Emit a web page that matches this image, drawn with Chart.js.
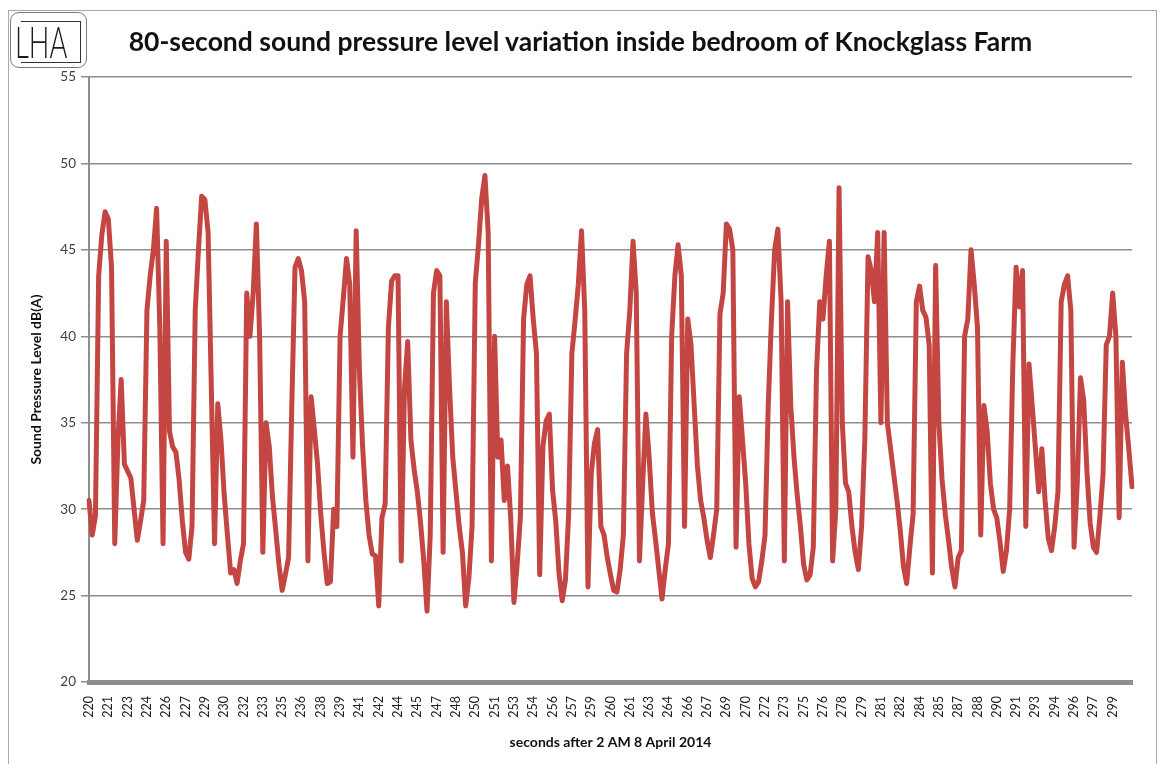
<!DOCTYPE html>
<html>
<head>
<meta charset="utf-8">
<script src="https://cdn.jsdelivr.net/npm/chart.js@4.4.1/dist/chart.umd.min.js"></script>
<style>
    body { margin: 0; background: #fff; }
    #wrap { position: relative; width: 1161px; height: 764px; overflow: hidden; }
    .frame { position: absolute; left: 8px; top: 10px; width: 1147px; height: 800px; border: 1.5px solid #a8a8a8; }
    .logo { position: absolute; left: 10px; top: 12px; width: 75px; height: 54px; border: 1.5px solid #7a7a7a; border-radius: 9px; background: #fff; z-index: 2; overflow: hidden; }
    .logo .bracket { position: absolute; left: 10px; top: 8px; width: 59px; height: 40px; border-top: 1.2px solid #333; border-right: 1.2px solid #333; border-bottom: 1.2px solid #333; }
    .logo span { position: absolute; left: 4px; top: 5px; font-family: Lato, sans-serif; font-weight: 300; font-size: 44px; line-height: 46px; color: #1a1a1a; transform: scaleX(0.62); transform-origin: left top; }
    .title { position: absolute; left: 0; top: 26px; width: 1161px; text-align: center; font-family: Lato, sans-serif; font-weight: bold; font-size: 26.5px; line-height: 30px; color: #111; z-index: 2; }
    #chart { position: absolute; left: 0; top: 0; }
</style>
</head>
<body>
<div id="wrap">
    <div class="frame"></div>
    <div class="logo"><div class="bracket"></div><span>LHA</span></div>
    <div class="title">80-second sound pressure level variation inside bedroom of Knockglass Farm</div>
    <canvas id="chart" width="1161" height="764"></canvas>
</div>
<script>
// tick labels shown on the x axis (every 6th sample)
const tickLabels = [
    '220', '221', '223', '224', '226', '227', '229', '230', '232', '233',
    '235', '236', '238', '239', '241', '242', '244', '245', '247', '248',
    '250', '251', '253', '254', '256', '257', '259', '260', '261', '263',
    '264', '266', '267', '269', '270', '272', '273', '275', '276', '278',
    '279', '281', '282', '284', '285', '287', '288', '290', '291', '293',
    '294', '296', '297', '299'
];
const samplesPerTick = 6;

// sound pressure level dB(A), one row per tick interval
const splValues = [
    30.5, 28.5, 29.6, 43.5, 45.9, 47.2,   // 220
    46.8, 44.0, 28.0, 34.0, 37.5, 32.6,   // 221
    32.2, 31.8, 30.0, 28.2, 29.3, 30.5,   // 223
    41.5, 43.5, 45.0, 47.4, 40.5, 28.0,   // 224
    45.5, 34.5, 33.6, 33.3, 31.7, 29.3,   // 226
    27.5, 27.1, 29.0, 41.5, 45.0, 48.1,   // 227
    47.9, 46.0, 37.0, 28.0, 36.1, 34.0,   // 229
    30.8, 28.5, 26.3, 26.5, 25.7, 27.0,   // 230
    28.0, 42.5, 40.0, 42.5, 46.5, 40.0,   // 232
    27.5, 35.0, 33.6, 30.7, 28.8, 26.8,   // 233
    25.3, 26.2, 27.2, 36.0, 44.0, 44.5,   // 235
    43.8, 42.0, 27.0, 36.5, 34.6, 32.6,   // 236
    29.7, 27.5, 25.7, 25.8, 30.0, 29.0,   // 238
    40.0, 42.2, 44.5, 43.0, 33.0, 46.1,   // 239
    38.0, 33.6, 30.5, 28.5, 27.4, 27.3,   // 241
    24.4, 29.5, 30.3, 40.5, 43.2, 43.5,   // 242
    43.5, 27.0, 37.0, 39.7, 34.0, 32.3,   // 244
    31.0, 29.2, 27.0, 24.1, 28.5, 42.5,   // 245
    43.8, 43.5, 27.5, 42.0, 37.0, 33.0,   // 247
    31.0, 29.0, 27.5, 24.4, 26.0, 29.0,   // 248
    43.1, 45.3, 48.0, 49.3, 46.0, 27.0,   // 250
    40.0, 33.0, 34.0, 30.5, 32.5, 29.5,   // 251
    24.6, 26.8, 29.5, 41.0, 43.0, 43.5,   // 253
    41.0, 39.0, 26.2, 33.6, 35.1, 35.5,   // 254
    31.1, 29.3, 26.3, 24.7, 25.9, 29.7,   // 256
    39.0, 40.9, 43.0, 46.1, 41.5, 25.5,   // 257
    32.0, 33.8, 34.6, 29.0, 28.5, 27.2,   // 259
    26.2, 25.3, 25.2, 26.5, 28.5, 39.0,   // 260
    41.5, 45.5, 42.5, 27.0, 31.5, 35.5,   // 261
    33.0, 29.8, 28.2, 26.5, 24.8, 26.5,   // 263
    28.0, 40.0, 43.5, 45.3, 43.5, 29.0,   // 264
    41.0, 39.5, 36.0, 32.5, 30.5, 29.5,   // 266
    28.2, 27.2, 28.5, 30.0, 41.3, 42.5,   // 267
    46.5, 46.2, 45.0, 27.8, 36.5, 34.0,   // 269
    31.5, 28.0, 26.0, 25.5, 25.8, 27.0,   // 270
    28.5, 36.0, 41.0, 45.0, 46.2, 42.0,   // 272
    27.0, 42.0, 36.0, 33.0, 30.8, 29.0,   // 273
    26.8, 25.9, 26.2, 27.8, 38.0, 42.0,   // 275
    41.0, 43.5, 45.5, 27.0, 30.0, 48.6,   // 276
    35.0, 31.5, 31.0, 29.0, 27.5, 26.5,   // 278
    29.0, 34.0, 44.6, 43.8, 42.0, 46.0,   // 279
    35.0, 46.0, 35.0, 33.5, 32.0, 30.5,   // 281
    28.8, 26.7, 25.7, 27.8, 29.7, 42.0,   // 282
    42.9, 41.5, 41.1, 39.5, 26.3, 44.1,   // 284
    35.0, 31.7, 29.7, 28.2, 26.6, 25.5,   // 285
    27.2, 27.6, 40.0, 41.0, 45.0, 43.0,   // 287
    40.5, 28.5, 36.0, 34.5, 31.5, 30.0,   // 288
    29.5, 28.1, 26.4, 27.6, 30.0, 38.5,   // 290
    44.0, 41.7, 43.8, 29.0, 38.4, 36.0,   // 291
    33.5, 31.0, 33.5, 30.5, 28.3, 27.6,   // 293
    29.0, 31.0, 42.0, 43.0, 43.5, 41.5,   // 294
    27.8, 31.5, 37.6, 36.3, 32.2, 29.2,   // 296
    27.8, 27.5, 29.5, 32.0, 39.5, 40.0,   // 297
    42.5, 40.0, 29.5, 38.5, 35.5, 33.5,   // 299
    31.3
];

const yMin = 20;
const yMax = 55;
const yStep = 5;

// one category per sample, only every 6th carries a visible label
const categories = splValues.map((v, i) =>
    i % samplesPerTick === 0 ? (tickLabels[i / samplesPerTick] || '') : ''
);

const tickFont = { family: 'Lato, sans-serif', size: 12.5 };
const titleFont = { family: 'Lato, sans-serif', size: 14, weight: 'bold' };
const axisGrey = '#8e8e8e';

const ctx = document.getElementById('chart').getContext('2d');

new Chart(ctx, {
    type: 'line',
    data: {
        labels: categories,
        datasets: [{
            label: 'Sound Pressure Level dB(A)',
            data: splValues,
            borderColor: 'rgb(195, 70, 66)',
            borderWidth: 5,
            borderJoinStyle: 'round',
            borderCapStyle: 'round',
            pointRadius: 0,
            tension: 0,
            fill: false
        }]
    },
    options: {
        responsive: false,
        animation: false,
        devicePixelRatio: 1,
        layout: {
            padding: { left: 24, right: 20, top: 77, bottom: 10 }
        },
        plugins: {
            legend: { display: false },
            tooltip: { enabled: false }
        },
        scales: {
            x: {
                type: 'category',
                grid: { display: false, drawTicks: false },
                border: { display: true, color: axisGrey, width: 5 },
                ticks: {
                    autoSkip: false,
                    minRotation: 90,
                    maxRotation: 90,
                    padding: 14,
                    color: '#222',
                    font: tickFont
                },
                title: {
                    display: true,
                    text: 'seconds after 2 AM 8 April 2014',
                    color: '#111',
                    font: titleFont,
                    padding: { top: 4, bottom: 3 }
                },
                afterFit: (scale) => { scale.height = 72; }
            },
            y: {
                min: yMin,
                max: yMax,
                ticks: {
                    stepSize: yStep,
                    padding: 5,
                    color: '#404040',
                    font: { family: 'Lato, sans-serif', size: 13.5 }
                },
                grid: { color: axisGrey, lineWidth: 1.5, tickLength: 8 },
                border: { display: true, color: axisGrey, width: 2 },
                title: {
                    display: true,
                    text: 'Sound Pressure Level dB(A)',
                    color: '#111',
                    font: titleFont,
                    padding: { top: 4, bottom: 4 }
                },
                afterFit: (scale) => { scale.width = 65; }
            }
        }
    }
});
</script>
</body>
</html>
